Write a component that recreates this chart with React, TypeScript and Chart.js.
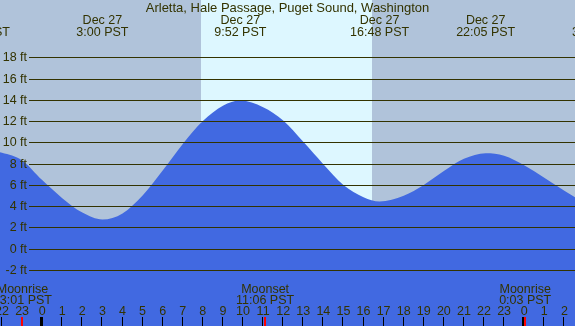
import React, { useEffect, useRef } from "react";
import { Chart, registerables } from "chart.js";

Chart.register(...registerables);

const title = "Arletta, Hale Passage, Puget Sound, Washington";

// tide heights (ft) read at hours relative to midnight Dec 27
const tideHours = [-3.08, -2, -1, 0, 1, 2, 3.0, 4, 5, 6, 7, 8, 9, 9.867, 11, 12, 13, 14, 15, 16, 16.8, 18, 19, 20, 21, 22.083, 23, 24, 25, 26, 27, 27.68];
const tideFeet = [9.35, 9.02, 8.3, 6.45, 4.75, 3.4, 2.75, 3.32, 5.0, 7.35, 9.85, 12.0, 13.45, 13.93, 13.3, 12.05, 10.05, 7.95, 6.0, 4.85, 4.45, 4.99, 6.0, 7.3, 8.45, 8.98, 8.75, 7.85, 6.67, 5.45, 4.4, 4.2];

const extremeHours = [-3.08, 3.0, 9.867, 16.8, 22.083, 27.68];
const extremeDates = ["Dec 26", "Dec 27", "Dec 27", "Dec 27", "Dec 27", "Dec 28"];
const extremeTimes = ["20:55 PST", "3:00 PST", "9:52 PST", "16:48 PST", "22:05 PST", "3:41 PST"];

const moonHours = [-0.983, 11.1, 24.05];
const moonEvents = ["Moonrise", "Moonset", "Moonrise"];
const moonTimes = ["23:01 PST", "11:06 PST", "0:03 PST"];

const sunriseHour = 7.9;
const sunsetHour = 16.42;

const hourTicks = [-2, -1, 0, 1, 2, 3, 4, 5, 6, 7, 8, 9, 10, 11, 12, 13, 14, 15, 16, 17, 18, 19, 20, 21, 22, 23, 24, 25, 26];
const yTicks = [-2, 0, 2, 4, 6, 8, 10, 12, 14, 16, 18];

const X_MIN = -2.1;
const X_MAX = 26.53;
const Y_MIN = -7.27;
const Y_MAX = 23.39;

const NIGHT = "#b0c3da";
const DAY = "#ddf7ff";
const WATER = "#4169e1";
const INK = "#333300";
const FONT = "12.5px 'Liberation Sans', Arial, sans-serif";
const TITLE_FONT = "13px 'Liberation Sans', Arial, sans-serif";

const tidePlugin = {
  id: "tideDecor",
  beforeDatasetsDraw(chart: any) {
    const { ctx, chartArea, scales } = chart;
    const xs = scales.x;
    ctx.save();
    ctx.fillStyle = NIGHT;
    ctx.fillRect(chartArea.left, chartArea.top, chartArea.right - chartArea.left, chartArea.bottom - chartArea.top);
    const x1 = Math.round(xs.getPixelForValue(sunriseHour));
    const x2 = Math.round(xs.getPixelForValue(sunsetHour));
    ctx.fillStyle = DAY;
    ctx.fillRect(x1, chartArea.top, x2 - x1, chartArea.bottom - chartArea.top);
    ctx.restore();
  },
  afterDatasetsDraw(chart: any) {
    const { ctx, chartArea, scales } = chart;
    const xs = scales.x;
    const ys = scales.y;
    ctx.save();
    ctx.font = FONT;
    ctx.fillStyle = INK;
    ctx.strokeStyle = INK;
    ctx.lineWidth = 1;
    ctx.textAlign = "right";
    ctx.textBaseline = "middle";
    yTicks.forEach((v) => {
      const y = Math.round(ys.getPixelForValue(v)) + 0.5;
      ctx.beginPath();
      ctx.moveTo(29, y);
      ctx.lineTo(chartArea.right, y);
      ctx.stroke();
      ctx.fillText(`${v} ft`, 27, y + 0.5);
    });
    ctx.textAlign = "center";
    ctx.textBaseline = "alphabetic";
    ctx.font = TITLE_FONT;
    ctx.fillText(title, (chartArea.left + chartArea.right) / 2, 11.5);
    ctx.font = FONT;
    extremeHours.forEach((h, i) => {
      const x = xs.getPixelForValue(h);
      ctx.fillText(extremeDates[i], x, 24);
      ctx.fillText(extremeTimes[i], x, 35.5);
    });
    moonHours.forEach((h, i) => {
      const x = xs.getPixelForValue(h);
      ctx.fillText(moonEvents[i], x, 292.5);
      ctx.fillText(moonTimes[i], x, 304);
    });
    hourTicks.forEach((h) => {
      const x = xs.getPixelForValue(h);
      const lbl = (((h % 24) + 24) % 24).toString();
      ctx.fillStyle = INK;
      ctx.fillText(lbl, x, 315);
      ctx.fillStyle = "#000000";
      if (((h % 24) + 24) % 24 === 0) {
        ctx.fillRect(Math.round(x) - 2, 317, 3, chartArea.bottom - 317);
      } else {
        ctx.fillRect(Math.round(x) - 1, 317, 1, chartArea.bottom - 317);
      }
    });
    ctx.fillStyle = "#ff0000";
    moonHours.forEach((h) => {
      const x = xs.getPixelForValue(h);
      ctx.fillRect(Math.round(x) - 1, 317, 2, chartArea.bottom - 317);
    });
    ctx.restore();
  },
};

export default function App() {
  const ref = useRef<HTMLCanvasElement | null>(null);
  useEffect(() => {
    document.body.style.margin = "0";
    const canvas = ref.current;
    if (!canvas) return;
    const chart = new Chart(canvas, {
      type: "line",
      data: {
        datasets: [
          {
            data: tideHours.map((h, i) => ({ x: h, y: tideFeet[i] })),
            backgroundColor: WATER,
            borderColor: WATER,
            borderWidth: 0,
            pointRadius: 0,
            fill: "start",
            cubicInterpolationMode: "monotone",
          },
        ],
      },
      options: {
        animation: false,
        responsive: false,
        devicePixelRatio: 1,
        layout: { padding: 0 },
        plugins: { legend: { display: false }, tooltip: { enabled: false }, title: { display: false } },
        scales: {
          x: { type: "linear", min: X_MIN, max: X_MAX, display: false },
          y: { type: "linear", min: Y_MIN, max: Y_MAX, display: false },
        },
      },
      plugins: [tidePlugin],
    });
    return () => chart.destroy();
  }, []);
  return (
    <div style={{ position: "absolute", left: 0, top: 0, width: 575, height: 326 }}>
      <canvas ref={ref} width={575} height={326} style={{ display: "block" }} />
    </div>
  );
}
